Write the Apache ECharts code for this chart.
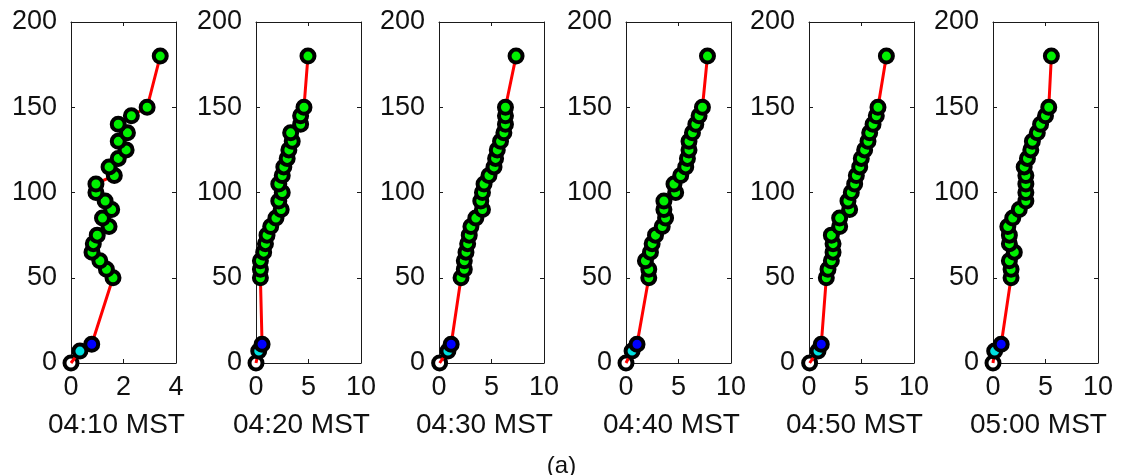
<!DOCTYPE html>
<html>
<head>
<meta charset="utf-8">
<script src="https://cdn.jsdelivr.net/npm/echarts@6/dist/echarts.min.js"></script>
<style>
html,body{margin:0;padding:0;background:#fff;}
#chart{width:1123px;height:475px;}
</style>
</head>
<body>
<div id="chart"></div>
<script>
// ---- data ----
const heights = [0, 7, 11, 50, 55, 60, 65, 70, 75, 80, 85, 90, 95, 100, 105, 110, 115, 120, 125, 130, 135, 140, 145, 150, 180];
const panelNames = ['04:10 MST', '04:20 MST', '04:30 MST', '04:40 MST', '04:50 MST', '05:00 MST'];
const xMaxes = [4, 10, 10, 10, 10, 10];
const yTickMax = 200;
const x0410 = [0, 0.34, 0.79, 1.6, 1.35, 1.1, 0.8, 0.85, 1.0, 1.45, 1.2, 1.55, 1.3, 0.95, 0.95, 1.65, 1.45, 1.8, 2.1, 1.8, 2.15, 1.8, 2.3, 2.9, 3.4];
const x0420 = [0, 0.26, 0.58, 0.42, 0.42, 0.42, 0.73, 0.9, 1.05, 1.4, 1.9, 2.4, 2.17, 2.5, 2.17, 2.5, 2.65, 2.97, 3.13, 3.45, 3.3, 4.25, 4.25, 4.57, 4.95];
const x0430 = [0.06, 0.85, 1.16, 2.1, 2.41, 2.41, 2.57, 2.73, 2.88, 3.04, 3.51, 4.14, 3.98, 4.14, 4.29, 4.76, 5.24, 5.39, 5.55, 5.86, 6.18, 6.33, 6.33, 6.33, 7.34];
const x0440 = [0, 0.58, 1.05, 2.17, 2.17, 1.85, 2.33, 2.49, 2.81, 3.45, 3.77, 3.61, 3.61, 4.73, 4.57, 5.21, 5.69, 5.85, 6.0, 6.0, 6.33, 6.65, 6.96, 7.28, 7.76];
const x0450 = [0.06, 0.86, 1.17, 1.65, 1.81, 2.13, 2.29, 2.29, 2.13, 2.92, 2.92, 3.87, 3.71, 4.03, 4.35, 4.51, 4.83, 4.98, 5.3, 5.62, 5.78, 6.1, 6.41, 6.57, 7.37];
const x0500 = [0, 0.16, 0.78, 1.72, 1.72, 1.56, 2.03, 1.56, 1.56, 1.41, 1.88, 2.5, 3.13, 3.13, 3.13, 3.13, 2.97, 3.28, 3.6, 3.75, 4.22, 4.53, 5.0, 5.31, 5.56];
const panelX = [x0410, x0420, x0430, x0440, x0450, x0500];

// ---- layout ----
const gridLefts = [71, 256, 439, 626, 809, 993];
const gridWidth = 105;
const gridTop = 22;
const gridHeight = 341;
const FONT = 'Liberation Sans, Arial, sans-serif';
const AX = '#1a1a1a';

const grids = [], xAxes = [], yAxes = [], series = [];
panelX.forEach((xs, i) => {
  grids.push({left: gridLefts[i], top: gridTop, width: gridWidth, height: gridHeight, containLabel: false});
  const xMax = xMaxes[i];
  const common = {
    gridIndex: i, type: 'value', min: 0, max: xMax, interval: xMax / 2,
    axisLine: {show: true, onZero: false, lineStyle: {color: AX, width: 1}},
    axisTick: {show: true, inside: true, length: 4, lineStyle: {color: AX, width: 1}},
    splitLine: {show: false}
  };
  xAxes.push(Object.assign({}, common, {
    position: 'bottom',
    axisLabel: {show: true, fontSize: 27, color: '#111', fontFamily: FONT, margin: 11},
    name: panelNames[i], nameLocation: 'middle', nameGap: 48,
    nameTextStyle: {fontSize: 28, color: '#111', fontFamily: FONT, padding: [0, 14, 0, 0]}
  }));
  xAxes.push(Object.assign({}, common, {position: 'top', axisLabel: {show: false}}));
  const ycommon = {
    gridIndex: i, type: 'value', min: 0, max: yTickMax, interval: 50,
    axisLine: {show: true, onZero: false, lineStyle: {color: AX, width: 1}},
    axisTick: {show: true, inside: true, length: 4, lineStyle: {color: AX, width: 1}},
    splitLine: {show: false}
  };
  yAxes.push(Object.assign({}, ycommon, {
    position: 'left',
    axisLabel: {show: true, fontSize: 27, color: '#111', fontFamily: FONT, margin: 14}
  }));
  yAxes.push(Object.assign({}, ycommon, {position: 'right', axisLabel: {show: false}}));

  const pts = heights.map((h, k) => [xs[k], h]);
  const base = {xAxisIndex: 2 * i, yAxisIndex: 2 * i, clip: false, animation: false, silent: true};
  const mk = (data, color, z) => Object.assign({}, base, {
    type: 'scatter', data: data, symbol: 'circle', symbolSize: 13, z: z,
    itemStyle: {color: color, borderColor: '#000', borderWidth: 4, opacity: 1}
  });
  series.push(mk([pts[0]], '#ffffff', 2));
  series.push(Object.assign({}, base, {
    type: 'line', data: pts, showSymbol: false, z: 3,
    lineStyle: {color: '#ff0000', width: 3}
  }));
  series.push(mk([pts[1]], '#00e0e0', 4));
  series.push(mk([pts[2]], '#0000ff', 4));
  series.push(mk(pts.slice(3), '#00f000', 4));
});

const chart = echarts.init(document.getElementById('chart'), null, {renderer: 'canvas'});
chart.setOption({
  backgroundColor: '#ffffff',
  animation: false,
  title: {text: '(a)', left: 'center', top: 449, textStyle: {fontSize: 24, fontWeight: 'normal', color: '#111', fontFamily: FONT}},
  grid: grids,
  xAxis: xAxes,
  yAxis: yAxes,
  series: series
});
</script>
</body>
</html>
